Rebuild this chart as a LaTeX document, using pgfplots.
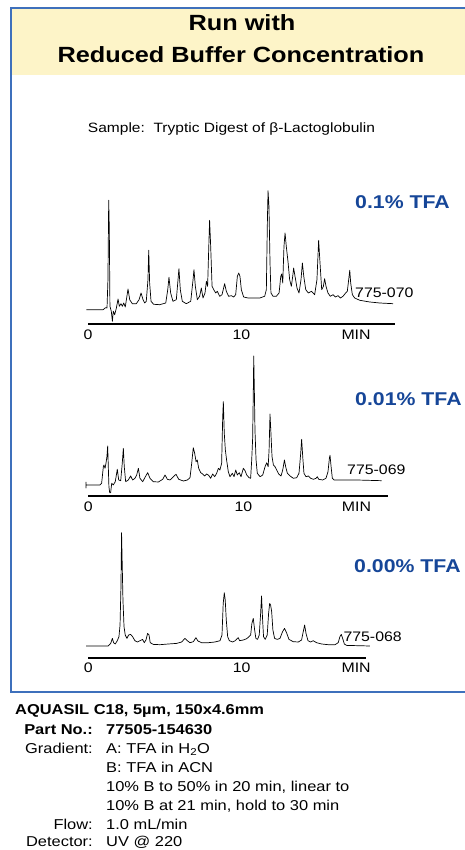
\documentclass[border=0pt]{standalone}
\usepackage{fontspec}
\setmainfont{Liberation Sans}[FakeStretch=1.15]
\usepackage{pgfplots}
\pgfplotsset{compat=1.18}

\definecolor{frameblue}{RGB}{62,112,188}
\definecolor{bandyellow}{RGB}{253,244,200}
\definecolor{tfablue}{RGB}{22,70,152}
\newcommand\fs[1]{\fontsize{#1}{#1}\selectfont}

\pgfplotsset{
  chrom/.style={
    scale only axis, height=140pt,
    xmin=0, ymin=0, ymax=140, clip=false,
    axis x line*=bottom, axis y line=none,
    ytick=\empty, major tick length=0pt,
    x axis line style={line width=2pt},
    xticklabels={0,10,MIN},
    xticklabel style={font=\fs{13.8}, yshift=-5.4pt},
  },
  trace/.style={black, line width=0.7pt, line join=round},
}

\begin{document}
\begin{tikzpicture}[x=1pt, y=1pt, every node/.style={inner sep=0pt}]
\useasboundingbox (0,0) rectangle (464,850);

% frame and title band
\fill[bandyellow] (12,775) rectangle (470,841);
\draw[frameblue, line width=2pt] (11,158) rectangle (470,842);

\node[anchor=base, font=\bfseries\fs{22}] at (242,819.3) {Run with};
\node[anchor=base, font=\bfseries\fs{22}] at (241,787) {Reduced Buffer Concentration};
\node[anchor=base, font=\fs{13.5}] at (231.5,717.3) {Sample:\ \ Tryptic Digest of β-Lactoglobulin};

% 0.1% TFA
\begin{axis}[chrom, at={(88pt,526pt)}, anchor=south west, width=307pt, xmax=20.02,
  xtick={0,10,17.48}]
\addplot[trace] coordinates {
(-0.11,14.3) (0.98,14.3) (1.15,16.3) (1.24,16) (1.30,44) (1.35,123.7) (1.39,94.3)
(1.43,17.7) (1.52,12.7) (1.59,2.7) (1.65,12.7) (1.74,9.3) (1.85,16) (1.96,25)
(2.04,17.7) (2.15,20.3) (2.24,17.7) (2.33,21) (2.43,17) (2.61,35) (2.72,24.3)
(2.89,20.3) (3.15,20.3) (3.33,24.3) (3.46,31) (3.59,24.3) (3.70,21) (3.80,22.7)
(3.91,44.3) (3.96,73.7) (4.02,41) (4.11,22.7) (4.28,19.7) (4.67,19.3) (5.07,21)
(5.20,34.3) (5.28,46.7) (5.39,31) (5.54,22.7) (5.76,24.3) (5.87,44.3) (5.93,55.3)
(6.02,34.3) (6.15,22.7) (6.41,20.3) (6.70,22.7) (6.85,44.3) (6.91,54.3) (7.00,37.7)
(7.13,24.3) (7.28,27.7) (7.39,36) (7.50,26) (7.63,31) (7.72,42.7) (7.80,37.7)
(7.89,84.3) (7.93,103.7) (8.00,77.7) (8.09,37.7) (8.20,34.3) (8.33,31) (8.43,32.7)
(8.59,27.7) (8.74,29.3) (8.91,40.3) (9.02,32.7) (9.17,27.7) (9.35,28.3) (9.50,27)
(9.63,29.3) (9.74,47.7) (9.83,51) (9.91,47.7) (10.00,34.3) (10.15,27) (10.43,26)
(10.76,26) (11.20,26) (11.52,27.7) (11.63,34.3) (11.70,104.3) (11.74,133.3)
(11.80,117.7) (11.87,61) (11.93,31) (12.07,27.7) (12.28,27.7) (12.46,31)
(12.57,47.7) (12.63,50) (12.70,41) (12.78,77.7) (12.85,91) (12.93,77.7) (13.04,62.7)
(13.15,44.3) (13.26,37.7) (13.35,47.7) (13.41,56) (13.50,47.7) (13.63,36) (13.76,31)
(13.89,44.3) (13.98,61) (14.07,47.7) (14.20,34.3) (14.37,31) (14.57,32.7) (14.78,29.3)
(14.93,44.3) (15.04,83.7) (15.13,61) (15.24,34.3) (15.35,37.7) (15.43,45.3)
(15.52,37.7) (15.65,31) (15.80,27.7) (15.98,29.3) (16.13,27) (16.30,28.3) (16.46,26)
(16.63,27.7) (16.80,31) (16.91,32.7) (17.00,44.3) (17.07,53.7) (17.13,41) (17.24,29.3)
(17.39,26) (17.72,23.7) (18.37,22) (19.02,21) (19.89,20.3)
};
\end{axis}

% 0.01% TFA
\begin{axis}[chrom, at={(88.3pt,354pt)}, anchor=south west, width=300pt, xmax=19.35,
  xtick={0,10,17.3}]
\addplot[trace] coordinates {
(-0.15,14) (-0.15,8) (-0.15,11) (0.75,11) (0.86,12.7) (0.97,29.3) (1.01,31) (1.08,27.7)
(1.14,32.7) (1.20,39.3) (1.25,50) (1.29,29.3) (1.33,9.3) (1.38,3.3) (1.44,3.3)
(1.51,12.7) (1.61,11) (1.74,14.3) (1.87,26.7) (1.96,16) (2.09,15.3) (2.19,32.7)
(2.26,47.7) (2.32,29.3) (2.41,14.3) (2.58,16) (2.73,20) (2.86,16) (3.01,17.7)
(3.12,21) (3.23,27.7) (3.33,17.7) (3.51,14.3) (3.68,19.3) (3.83,23.3) (3.98,17.7)
(4.19,14.3) (4.52,14) (4.80,16.7) (4.95,21) (5.10,16.7) (5.27,16) (5.53,20)
(5.66,21.7) (5.83,16.7) (6.13,15) (6.39,16) (6.56,18.3) (6.67,32.7) (6.77,48.3)
(6.86,42.7) (6.95,34.3) (7.03,36) (7.12,27.7) (7.25,23.3) (7.38,22) (7.51,20)
(7.63,22) (7.76,20.7) (7.89,17.7) (8.02,22) (8.15,19.3) (8.28,22.7) (8.39,27.7)
(8.49,26) (8.60,32.7) (8.67,79.3) (8.71,94.3) (8.77,62.7) (8.84,46) (8.92,36)
(9.03,24.3) (9.14,19.3) (9.29,22.7) (9.40,19.3) (9.51,26) (9.61,21) (9.74,23.3)
(9.85,19.3) (10.00,27.7) (10.11,25.3) (10.22,21) (10.37,18.3) (10.47,17.7) (10.54,36)
(10.60,57.7) (10.65,112.7) (10.67,140) (10.71,106) (10.75,66) (10.82,36) (10.90,22.7)
(11.08,19.3) (11.25,21) (11.40,29.3) (11.51,33.3) (11.60,29.3) (11.66,46) (11.72,82)
(11.78,62.7) (11.85,39.3) (11.94,31) (12.04,29.3) (12.15,26) (12.28,22) (12.43,20)
(12.54,26) (12.65,36) (12.73,29.3) (12.84,22.7) (13.01,20) (13.23,17.7) (13.44,18.3)
(13.59,22.7) (13.70,42.7) (13.76,56.7) (13.83,39.3) (13.91,22.7) (14.04,19.3)
(14.19,20) (14.34,17.7) (14.52,16.7) (14.69,17.7) (14.77,19.3) (14.86,16.7) (15.12,16)
(15.33,17.7) (15.46,24.3) (15.55,37.7) (15.59,40.7) (15.66,29.3) (15.74,17.7)
(15.85,16) (17.31,16) (18.92,15.3)
};
\end{axis}

% 0.00% TFA
\begin{axis}[chrom, at={(88.3pt,192.3pt)}, anchor=south west, width=277.5pt, xmax=18.1,
  xtick={0,10,17.47}]
\addplot[trace] coordinates {
(-0.15,11.7) (1.30,11.7) (1.46,14.3) (1.57,19.3) (1.65,15) (1.76,13.7) (1.89,17)
(2.00,21) (2.07,32.7) (2.13,71) (2.17,125) (2.22,87.7) (2.26,57.7) (2.33,31)
(2.41,22.7) (2.52,19.3) (2.63,22.7) (2.76,23.3) (2.89,21) (3.04,17) (3.20,15.7)
(3.37,17) (3.54,18.3) (3.65,15) (3.76,17.7) (3.87,24.3) (3.96,22.7) (4.04,15)
(4.24,13.3) (4.67,13) (5.22,13.7) (5.76,14.3) (6.09,15.7) (6.30,19.3) (6.46,17)
(6.63,15) (6.85,16) (7.02,20) (7.15,16.7) (7.39,15) (7.83,15) (8.26,15.7) (8.59,17)
(8.72,22.7) (8.80,54.3) (8.87,65) (8.93,57.7) (9.00,37.7) (9.09,21) (9.20,17)
(9.41,15.7) (9.59,17) (9.72,19.3) (9.78,20) (9.87,17) (10.11,17.7) (10.33,19)
(10.48,21) (10.59,22.7) (10.67,34.3) (10.76,39.3) (10.85,27.7) (10.93,19.3)
(11.04,18.3) (11.15,22.7) (11.24,44.3) (11.30,61.7) (11.37,37.7) (11.43,21)
(11.54,18.3) (11.67,22.7) (11.76,44.3) (11.83,54.3) (11.89,52.7) (11.96,46)
(12.04,27.7) (12.15,19.3) (12.33,18.3) (12.50,19.3) (12.67,26) (12.80,29.3) (12.93,25)
(13.09,18.3) (13.37,16) (13.70,15.7) (13.91,17.7) (14.02,26) (14.11,32.7) (14.20,24.3)
(14.33,17) (14.50,15.7) (14.67,17) (14.89,15) (15.22,13.7) (15.65,13) (16.09,13)
(16.30,15) (16.41,21) (16.50,23.3) (16.59,19.3) (16.70,13.7) (16.85,12.3) (18.37,11.7)
};
\end{axis}

% run labels
\node[anchor=base west, font=\fs{13.8}] at (355,552.7) {775-070};
\node[anchor=base west, font=\fs{13.8}] at (347,375) {775-069};
\node[anchor=base west, font=\fs{13.8}] at (343.3,208.3) {775-068};
\node[anchor=base west, font=\bfseries\fs{18.5}, text=tfablue] at (355,641.7) {0.1\% TFA};
\node[anchor=base west, font=\bfseries\fs{18.5}, text=tfablue] at (355,444) {0.01\% TFA};
\node[anchor=base west, font=\bfseries\fs{18.5}, text=tfablue] at (354,277.3) {0.00\% TFA};

% column details
\node[anchor=base west, font=\bfseries\fs{14.3}] at (15,135) {AQUASIL C18, 5µm, 150x4.6mm};
\begin{scope}[font=\fs{14.3}]
\node[anchor=base east] at (93,115.7) {\bfseries Part No.:};
\node[anchor=base west] at (106,115.7) {\bfseries 77505-154630};
\node[anchor=base east] at (93,96.7) {Gradient:};
\node[anchor=base west] at (106,96.7) {A: TFA in H\textsubscript{2}O};
\node[anchor=base west] at (106,77.3) {B: TFA in ACN};
\node[anchor=base west] at (106,58.3) {10\% B to 50\% in 20 min, linear to};
\node[anchor=base west] at (106,39.3) {10\% B at 21 min, hold to 30 min};
\node[anchor=base east] at (93,20) {Flow:};
\node[anchor=base west] at (106,20) {1.0 mL/min};
\node[anchor=base east] at (93,3) {Detector:};
\node[anchor=base west] at (106,3) {UV @ 220};
\end{scope}
\end{tikzpicture}
\end{document}
